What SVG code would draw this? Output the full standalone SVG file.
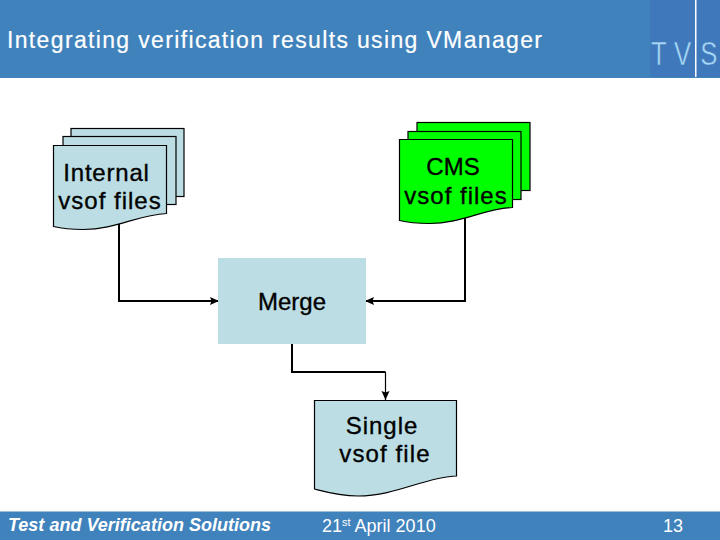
<svg xmlns="http://www.w3.org/2000/svg" width="720" height="540" viewBox="0 0 720 540">
<defs>
<marker id="arrow" markerUnits="userSpaceOnUse" markerWidth="12" markerHeight="12" refX="9" refY="6" orient="auto"><path d="M0 2L9 6L0 10L1.500 6Z" fill="#000"/></marker>
<path id="doc" d="M0 0H113V68C85 69 62 84 30 84C18 84 8 83 0 81Z"/>
</defs>
<style>
text{font-family:"Liberation Sans",Arial,sans-serif;fill:#000}
.lbl{font-size:24px;text-anchor:middle;stroke:#000;stroke-width:.35}
.sheet{stroke:#000;stroke-width:1.2}
.blue{fill:#bbdde3}
.green{fill:#00ff00}
.conn{fill:none;stroke:#000;stroke-width:2}
.foot{font-size:18px;fill:#fff}
</style>
<rect id="header" width="720" height="78" fill="#3f82bc"/>
<g id="logo">
<rect x="650" width="70" height="77" fill="#3f79bc"/>
<rect x="695" width="1.500" height="77" fill="#fff"/>
<text transform="translate(651 65) scale(.78 1)" x="0 29.500 63" y="0" style="font-size:33px;fill:#a8d8f5;stroke:#3f79bc;stroke-width:.5">TVS</text>
</g>
<text id="title" x="7" y="47.500" style="font-size:23px;fill:#fff;stroke:#fff;stroke-width:.2" textLength="535" lengthAdjust="spacing">Integrating verification results using VManager</text>
<g id="connectors" class="conn">
<path d="M119 222V301H219" marker-end="url(#arrow)"/>
<path d="M465 218V301H365" marker-end="url(#arrow)"/>
<path d="M292 344V372H385.500"/>
<path d="M385.500 372V400" stroke-width="1.200" marker-end="url(#arrow)"/>
</g>
<g id="internal">
<rect x="71" y="128.500" width="113" height="68" class="blue sheet"/>
<rect x="63" y="136.500" width="113" height="68" class="blue sheet"/>
<use href="#doc" x="53.500" y="145.500" class="blue sheet"/>
<text class="lbl" x="106.500" y="181" letter-spacing=".8">Internal</text>
<text class="lbl" x="110" y="209" letter-spacing="1">vsof files</text>
</g>
<g id="cms">
<rect x="417" y="122.500" width="113" height="68" class="green sheet"/>
<rect x="408" y="131.500" width="113" height="68" class="green sheet"/>
<use href="#doc" x="399.500" y="139.500" class="green sheet"/>
<text class="lbl" x="453" y="175">CMS</text>
<text class="lbl" x="456" y="204" letter-spacing="1">vsof files</text>
</g>
<g id="merge">
<rect x="218" y="258" width="148" height="86" class="blue"/>
<text class="lbl" x="292" y="310">Merge</text>
</g>
<g id="single">
<path d="M314.500 400.500H456.500V476C425 477 396 496 358 496C340 496 326 492 314.500 489Z" class="blue sheet"/>
<text class="lbl" x="382" y="434" letter-spacing="1">Single</text>
<text class="lbl" x="385" y="462" letter-spacing="1.100">vsof file</text>
</g>
<g id="footer">
<rect y="511.500" width="720" height="28.500" fill="#3f82bc"/>
<text x="8" y="531" class="foot" style="font-weight:bold;font-style:italic" textLength="263">Test and Verification Solutions</text>
<text x="322" y="532" class="foot">21<tspan dy="-6" font-size="11">st</tspan><tspan dy="6"> April 2010</tspan></text>
<text x="663" y="532" class="foot">13</text>
</g>
</svg>
